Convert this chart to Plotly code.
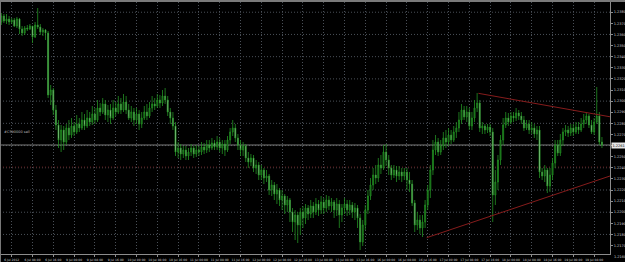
import plotly.graph_objects as go

# ---- data (EURUSD H1) ----
opens = [1.23712, 1.23766, 1.23721, 1.23739, 1.23712, 1.23730, 1.23676, 1.23739, 1.23649, 1.23613,
         1.23658, 1.23649, 1.23676, 1.23577, 1.23685, 1.23667, 1.23622, 1.23640, 1.23613, 1.23055,
         1.23100, 1.22920, 1.22785, 1.22650, 1.22740, 1.22632, 1.22758, 1.22695, 1.22776, 1.22722,
         1.22794, 1.22758, 1.22830, 1.22776, 1.22848, 1.22812, 1.22884, 1.22830, 1.22938, 1.22902,
         1.22974, 1.22875, 1.22920, 1.22848, 1.22938, 1.22902, 1.22974, 1.22920, 1.22992, 1.22920,
         1.22848, 1.22902, 1.22830, 1.22884, 1.22794, 1.22848, 1.22902, 1.22866, 1.22938, 1.22974,
         1.22956, 1.23010, 1.22983, 1.23046, 1.23010, 1.22902, 1.22848, 1.22776, 1.22542, 1.22578,
         1.22524, 1.22560, 1.22506, 1.22542, 1.22578, 1.22524, 1.22560, 1.22542, 1.22587, 1.22560,
         1.22605, 1.22578, 1.22623, 1.22587, 1.22632, 1.22578, 1.22614, 1.22560, 1.22650, 1.22722,
         1.22758, 1.22668, 1.22605, 1.22560, 1.22596, 1.22488, 1.22452, 1.22488, 1.22398, 1.22425,
         1.22335, 1.22380, 1.22308, 1.22326, 1.22200, 1.22245, 1.22164, 1.22200, 1.22110, 1.22146,
         1.22065, 1.22110, 1.22002, 1.21912, 1.21975, 1.21885, 1.22002, 1.21948, 1.22038, 1.21984,
         1.22056, 1.22002, 1.22074, 1.22020, 1.22092, 1.22038, 1.22110, 1.22056, 1.22092, 1.22020,
         1.22074, 1.21975, 1.22038, 1.22074, 1.22020, 1.22065, 1.22002, 1.22038, 1.21948, 1.21732,
         1.21885, 1.22020, 1.22146, 1.22245, 1.22335, 1.22308, 1.22425, 1.22398, 1.22542, 1.22470,
         1.22398, 1.22335, 1.22380, 1.22326, 1.22362, 1.22326, 1.22362, 1.22290, 1.22254, 1.22083,
         1.21885, 1.21930, 1.21858, 1.21912, 1.22065, 1.22200, 1.22380, 1.22560, 1.22632, 1.22542,
         1.22596, 1.22668, 1.22632, 1.22695, 1.22650, 1.22722, 1.22758, 1.22830, 1.22920, 1.22857,
         1.22902, 1.22776, 1.22848, 1.22938, 1.22983, 1.22758, 1.22776, 1.22740, 1.22767, 1.22722,
         1.22155, 1.22272, 1.22470, 1.22650, 1.22785, 1.22848, 1.22812, 1.22866, 1.22848, 1.22893,
         1.22866, 1.22830, 1.22758, 1.22794, 1.22740, 1.22758, 1.22704, 1.22740, 1.22362, 1.22326,
         1.22380, 1.22236, 1.22335, 1.22443, 1.22605, 1.22533, 1.22650, 1.22722, 1.22740, 1.22713,
         1.22758, 1.22722, 1.22767, 1.22740, 1.22794, 1.22830, 1.22866, 1.22785, 1.22722, 1.22812,
         1.22866, 1.22632]

highs = [1.23793, 1.23784, 1.23784, 1.23766, 1.23748, 1.23748, 1.23757, 1.23748, 1.23676, 1.23676,
         1.23685, 1.23694, 1.23676, 1.23712, 1.23838, 1.23694, 1.23658, 1.23649, 1.23631, 1.23145,
         1.23118, 1.22965, 1.22830, 1.22785, 1.22776, 1.22794, 1.22830, 1.22848, 1.22812, 1.22875,
         1.22848, 1.22902, 1.22884, 1.22920, 1.22902, 1.22956, 1.22938, 1.23010, 1.22983, 1.23028,
         1.23010, 1.22965, 1.22974, 1.23010, 1.22992, 1.23046, 1.23028, 1.23064, 1.23046, 1.22974,
         1.22956, 1.22938, 1.22938, 1.22920, 1.22902, 1.22956, 1.22974, 1.22992, 1.23046, 1.23028,
         1.23064, 1.23055, 1.23100, 1.23118, 1.23046, 1.22938, 1.22902, 1.22812, 1.22632, 1.22614,
         1.22596, 1.22596, 1.22578, 1.22614, 1.22596, 1.22605, 1.22596, 1.22632, 1.22623, 1.22650,
         1.22650, 1.22668, 1.22650, 1.22686, 1.22668, 1.22650, 1.22650, 1.22686, 1.22758, 1.22830,
         1.22794, 1.22704, 1.22650, 1.22632, 1.22614, 1.22542, 1.22524, 1.22515, 1.22470, 1.22452,
         1.22425, 1.22398, 1.22380, 1.22344, 1.22290, 1.22272, 1.22254, 1.22218, 1.22200, 1.22164,
         1.22146, 1.22128, 1.22038, 1.22020, 1.22002, 1.22038, 1.22056, 1.22074, 1.22065, 1.22110,
         1.22092, 1.22128, 1.22110, 1.22146, 1.22128, 1.22155, 1.22146, 1.22128, 1.22110, 1.22128,
         1.22110, 1.22074, 1.22128, 1.22110, 1.22110, 1.22092, 1.22083, 1.22065, 1.21984, 1.21930,
         1.22065, 1.22200, 1.22308, 1.22398, 1.22425, 1.22488, 1.22515, 1.22605, 1.22614, 1.22515,
         1.22425, 1.22425, 1.22416, 1.22416, 1.22398, 1.22398, 1.22398, 1.22362, 1.22290, 1.22110,
         1.22002, 1.21975, 1.21975, 1.22110, 1.22245, 1.22425, 1.22650, 1.22695, 1.22668, 1.22650,
         1.22722, 1.22740, 1.22758, 1.22740, 1.22776, 1.22812, 1.22902, 1.22974, 1.22956, 1.22956,
         1.22938, 1.22902, 1.23010, 1.23073, 1.23010, 1.22812, 1.22794, 1.22794, 1.22794, 1.22758,
         1.22380, 1.22515, 1.22695, 1.22848, 1.22902, 1.22893, 1.22902, 1.22902, 1.22938, 1.22920,
         1.22902, 1.22866, 1.22830, 1.22830, 1.22812, 1.22794, 1.22776, 1.22776, 1.22398, 1.22425,
         1.22398, 1.22398, 1.22488, 1.22650, 1.22650, 1.22704, 1.22758, 1.22785, 1.22776, 1.22794,
         1.22794, 1.22812, 1.22812, 1.22848, 1.22884, 1.22902, 1.22884, 1.22830, 1.22848, 1.23127,
         1.22902, 1.22677]

lows = [1.23685, 1.23703, 1.23694, 1.23685, 1.23694, 1.23667, 1.23658, 1.23604, 1.23586, 1.23595,
        1.23631, 1.23640, 1.23523, 1.23568, 1.23649, 1.23595, 1.23586, 1.23550, 1.23028, 1.22965,
        1.22875, 1.22740, 1.22578, 1.22542, 1.22560, 1.22605, 1.22650, 1.22668, 1.22686, 1.22704,
        1.22722, 1.22740, 1.22740, 1.22758, 1.22776, 1.22785, 1.22794, 1.22812, 1.22866, 1.22884,
        1.22830, 1.22812, 1.22794, 1.22830, 1.22866, 1.22884, 1.22884, 1.22902, 1.22884, 1.22830,
        1.22812, 1.22776, 1.22794, 1.22740, 1.22758, 1.22830, 1.22830, 1.22848, 1.22902, 1.22920,
        1.22938, 1.22938, 1.22956, 1.22974, 1.22866, 1.22794, 1.22740, 1.22506, 1.22488, 1.22470,
        1.22488, 1.22470, 1.22470, 1.22506, 1.22488, 1.22497, 1.22506, 1.22515, 1.22524, 1.22533,
        1.22542, 1.22560, 1.22560, 1.22560, 1.22542, 1.22524, 1.22506, 1.22542, 1.22614, 1.22686,
        1.22632, 1.22560, 1.22506, 1.22506, 1.22452, 1.22398, 1.22416, 1.22362, 1.22344, 1.22290,
        1.22290, 1.22254, 1.22272, 1.22155, 1.22146, 1.22110, 1.22074, 1.22056, 1.22020, 1.21984,
        1.22002, 1.21912, 1.21822, 1.21750, 1.21723, 1.21795, 1.21858, 1.21894, 1.21930, 1.21948,
        1.21948, 1.21975, 1.21966, 1.21984, 1.21984, 1.22002, 1.22020, 1.22002, 1.21948, 1.21966,
        1.21858, 1.21912, 1.21984, 1.21966, 1.21975, 1.21948, 1.21930, 1.21858, 1.21660, 1.21696,
        1.21840, 1.21984, 1.22110, 1.22200, 1.22254, 1.22272, 1.22344, 1.22380, 1.22416, 1.22335,
        1.22290, 1.22308, 1.22272, 1.22290, 1.22272, 1.22290, 1.22200, 1.22182, 1.22056, 1.21822,
        1.21840, 1.21804, 1.21777, 1.21858, 1.22020, 1.22128, 1.22335, 1.22515, 1.22506, 1.22515,
        1.22560, 1.22578, 1.22596, 1.22614, 1.22632, 1.22668, 1.22722, 1.22794, 1.22830, 1.22812,
        1.22740, 1.22740, 1.22812, 1.22902, 1.22722, 1.22704, 1.22704, 1.22713, 1.22686, 1.21912,
        1.22065, 1.22200, 1.22425, 1.22605, 1.22758, 1.22776, 1.22794, 1.22812, 1.22821, 1.22830,
        1.22794, 1.22731, 1.22740, 1.22704, 1.22704, 1.22668, 1.22650, 1.22308, 1.22290, 1.22272,
        1.22173, 1.22182, 1.22290, 1.22398, 1.22506, 1.22506, 1.22596, 1.22686, 1.22677, 1.22686,
        1.22686, 1.22704, 1.22704, 1.22722, 1.22758, 1.22794, 1.22758, 1.22704, 1.22695, 1.22794,
        1.22605, 1.22578]

closes = [1.23766, 1.23721, 1.23739, 1.23712, 1.23730, 1.23676, 1.23739, 1.23649, 1.23613, 1.23658,
          1.23649, 1.23676, 1.23577, 1.23685, 1.23667, 1.23622, 1.23640, 1.23613, 1.23055, 1.23100,
          1.22920, 1.22785, 1.22650, 1.22740, 1.22632, 1.22758, 1.22695, 1.22776, 1.22722, 1.22794,
          1.22758, 1.22830, 1.22776, 1.22848, 1.22812, 1.22884, 1.22830, 1.22938, 1.22902, 1.22974,
          1.22875, 1.22920, 1.22848, 1.22938, 1.22902, 1.22974, 1.22920, 1.22992, 1.22920, 1.22848,
          1.22902, 1.22830, 1.22884, 1.22794, 1.22848, 1.22902, 1.22866, 1.22938, 1.22974, 1.22956,
          1.23010, 1.22983, 1.23046, 1.23010, 1.22902, 1.22848, 1.22776, 1.22542, 1.22578, 1.22524,
          1.22560, 1.22506, 1.22542, 1.22578, 1.22524, 1.22560, 1.22542, 1.22587, 1.22560, 1.22605,
          1.22578, 1.22623, 1.22587, 1.22632, 1.22578, 1.22614, 1.22560, 1.22650, 1.22722, 1.22758,
          1.22668, 1.22605, 1.22560, 1.22596, 1.22488, 1.22452, 1.22488, 1.22398, 1.22425, 1.22335,
          1.22380, 1.22308, 1.22326, 1.22200, 1.22245, 1.22164, 1.22200, 1.22110, 1.22146, 1.22065,
          1.22110, 1.22002, 1.21912, 1.21975, 1.21885, 1.22002, 1.21948, 1.22038, 1.21984, 1.22056,
          1.22002, 1.22074, 1.22020, 1.22092, 1.22038, 1.22110, 1.22056, 1.22092, 1.22020, 1.22074,
          1.21975, 1.22038, 1.22074, 1.22020, 1.22065, 1.22002, 1.22038, 1.21948, 1.21732, 1.21885,
          1.22020, 1.22146, 1.22245, 1.22335, 1.22308, 1.22425, 1.22398, 1.22542, 1.22470, 1.22398,
          1.22335, 1.22380, 1.22326, 1.22362, 1.22326, 1.22362, 1.22290, 1.22254, 1.22083, 1.21885,
          1.21930, 1.21858, 1.21912, 1.22065, 1.22200, 1.22380, 1.22560, 1.22632, 1.22542, 1.22596,
          1.22668, 1.22632, 1.22695, 1.22650, 1.22722, 1.22758, 1.22830, 1.22920, 1.22857, 1.22902,
          1.22776, 1.22848, 1.22938, 1.22983, 1.22758, 1.22776, 1.22740, 1.22767, 1.22722, 1.22155,
          1.22272, 1.22470, 1.22650, 1.22785, 1.22848, 1.22812, 1.22866, 1.22848, 1.22893, 1.22866,
          1.22830, 1.22758, 1.22794, 1.22740, 1.22758, 1.22704, 1.22740, 1.22362, 1.22326, 1.22380,
          1.22236, 1.22335, 1.22443, 1.22605, 1.22533, 1.22650, 1.22722, 1.22740, 1.22713, 1.22758,
          1.22722, 1.22767, 1.22740, 1.22794, 1.22830, 1.22866, 1.22785, 1.22722, 1.22812, 1.22866,
          1.22632, 1.22605]

time_labels = ["6 Jul 2012", "6 Jul 08:00", "6 Jul 16:00", "9 Jul 00:00", "9 Jul 08:00",
               "9 Jul 16:00", "10 Jul 00:00", "10 Jul 08:00", "10 Jul 16:00", "11 Jul 00:00",
               "11 Jul 08:00", "11 Jul 16:00", "12 Jul 00:00", "12 Jul 08:00", "12 Jul 16:00",
               "13 Jul 00:00", "13 Jul 08:00", "13 Jul 16:00", "16 Jul 00:00", "16 Jul 08:00",
               "16 Jul 16:00", "17 Jul 00:00", "17 Jul 08:00", "17 Jul 16:00", "18 Jul 00:00",
               "18 Jul 08:00", "18 Jul 16:00", "19 Jul 00:00", "19 Jul 08:00"]

price_labels = [1.2160, 1.2170, 1.2180, 1.2190, 1.2200, 1.2210, 1.2220, 1.2230, 1.2240, 1.2250,
                1.2260, 1.2270, 1.2280, 1.2290, 1.2300, 1.2310, 1.2320, 1.2330, 1.2340, 1.2350,
                1.2360, 1.2370, 1.2380]
grid_prices = [1.2160, 1.2180, 1.2200, 1.2220, 1.2240, 1.2260, 1.2280, 1.2300, 1.2320, 1.2340,
               1.2360, 1.2380]

# trend lines drawn on the chart (bar index, price)
upper_trend_x = [183.5, 234.1]
upper_trend_y = [1.23070, 1.22859]
lower_trend_x = [163.6, 234.1]
lower_trend_y = [1.21771, 1.22326]

order_text = "#CS90000 sell"
order_text_price = 1.22722
stop_price = 1.22407

# ---- styles ----
Y_MIN, Y_MAX = 1.21624, 1.23892
X_MIN, X_MAX = -0.5, 234.1
GRID = "#4a5058"
AXIS = "#8c8c8c"
TXT = "#cfcfcf"
FONT = "DejaVu Sans"

fig = go.Figure()
fig.add_trace(go.Candlestick(
    x=list(range(len(closes))), open=opens, high=highs, low=lows, close=closes,
    increasing=dict(line=dict(color="#239023", width=0.8), fillcolor="#0e4f0e"),
    decreasing=dict(line=dict(color="#239023", width=0.8), fillcolor="#e4f4e4"),
    whiskerwidth=0, hoverinfo="skip", showlegend=False))

for tx, ty in ((upper_trend_x, upper_trend_y), (lower_trend_x, lower_trend_y)):
    fig.add_trace(go.Scatter(x=tx, y=ty, mode="lines",
                             line=dict(color="#861c1c", width=1),
                             hoverinfo="skip", showlegend=False))

shapes = []
for gp in grid_prices:
    shapes.append(dict(type="line", xref="paper", x0=0, x1=1, yref="y", y0=gp, y1=gp,
                       line=dict(color=GRID, width=1, dash="1px,2px"), layer="below"))
# stop line and bid line
shapes.append(dict(type="line", xref="paper", x0=0, x1=1, yref="y", y0=stop_price, y1=stop_price,
                   line=dict(color="#5a1616", width=1, dash="1px,2px"), layer="below"))
shapes.append(dict(type="line", xref="paper", x0=0, x1=1, yref="y", y0=closes[-1], y1=closes[-1],
                   line=dict(color="#7c7c7c", width=1), layer="below"))
# window frame
shapes.append(dict(type="line", xref="paper", x0=0, x1=1.03, yref="paper", y0=1.004, y1=1.004,
                   line=dict(color="#7a7a7a", width=2)))
shapes.append(dict(type="line", xref="paper", x0=0.0008, x1=0.0008, yref="paper", y0=-0.04, y1=1.004,
                   line=dict(color="#7a7a7a", width=1)))

annotations = [
    dict(xref="paper", x=0.003, yref="y", y=order_text_price, text=order_text, showarrow=False,
         xanchor="left", yanchor="middle", font=dict(family=FONT, size=3.5, color="#b8b8b8")),
    dict(xref="paper", x=1, xshift=1, yref="y", y=closes[-1], text="%.4f" % closes[-1],
         showarrow=False, xanchor="left", yanchor="middle", bgcolor="#e6e6e6", borderpad=0.5,
         font=dict(family=FONT, size=3.5, color="#000000")),
    dict(xref="paper", x=1, xshift=2, yref="paper",
         y=(price_labels[0] - Y_MIN) / (Y_MAX - Y_MIN), text="%.4f" % price_labels[0],
         showarrow=False, xanchor="left", yanchor="middle",
         font=dict(family=FONT, size=3.5, color=TXT)),
]

fig.update_layout(
    width=625, height=262,
    margin=dict(l=0, r=15, t=2, b=8),
    paper_bgcolor="#000000", plot_bgcolor="#000000",
    boxgap=0.45,
    shapes=shapes, annotations=annotations,
    xaxis=dict(range=[X_MIN, X_MAX], rangeslider=dict(visible=False),
               tickvals=[8 * j + 4 for j in range(len(time_labels))], ticktext=time_labels,
               tickfont=dict(family=FONT, size=3, color=TXT),
               showgrid=True, gridcolor=GRID, griddash="1px,2px", gridwidth=1,
               zeroline=False, showline=True, linecolor=AXIS, linewidth=1,
               ticks="outside", ticklen=2, tickcolor=AXIS, fixedrange=True),
    yaxis=dict(range=[Y_MIN, Y_MAX], side="right",
               tickvals=price_labels, ticktext=["%.4f" % p for p in price_labels],
               tickfont=dict(family=FONT, size=3.5, color=TXT),
               showgrid=False, zeroline=False, showline=True, linecolor=AXIS, linewidth=1,
               ticks="outside", ticklen=2, tickcolor=AXIS, fixedrange=True),
)

fig.write_html("out.html")
